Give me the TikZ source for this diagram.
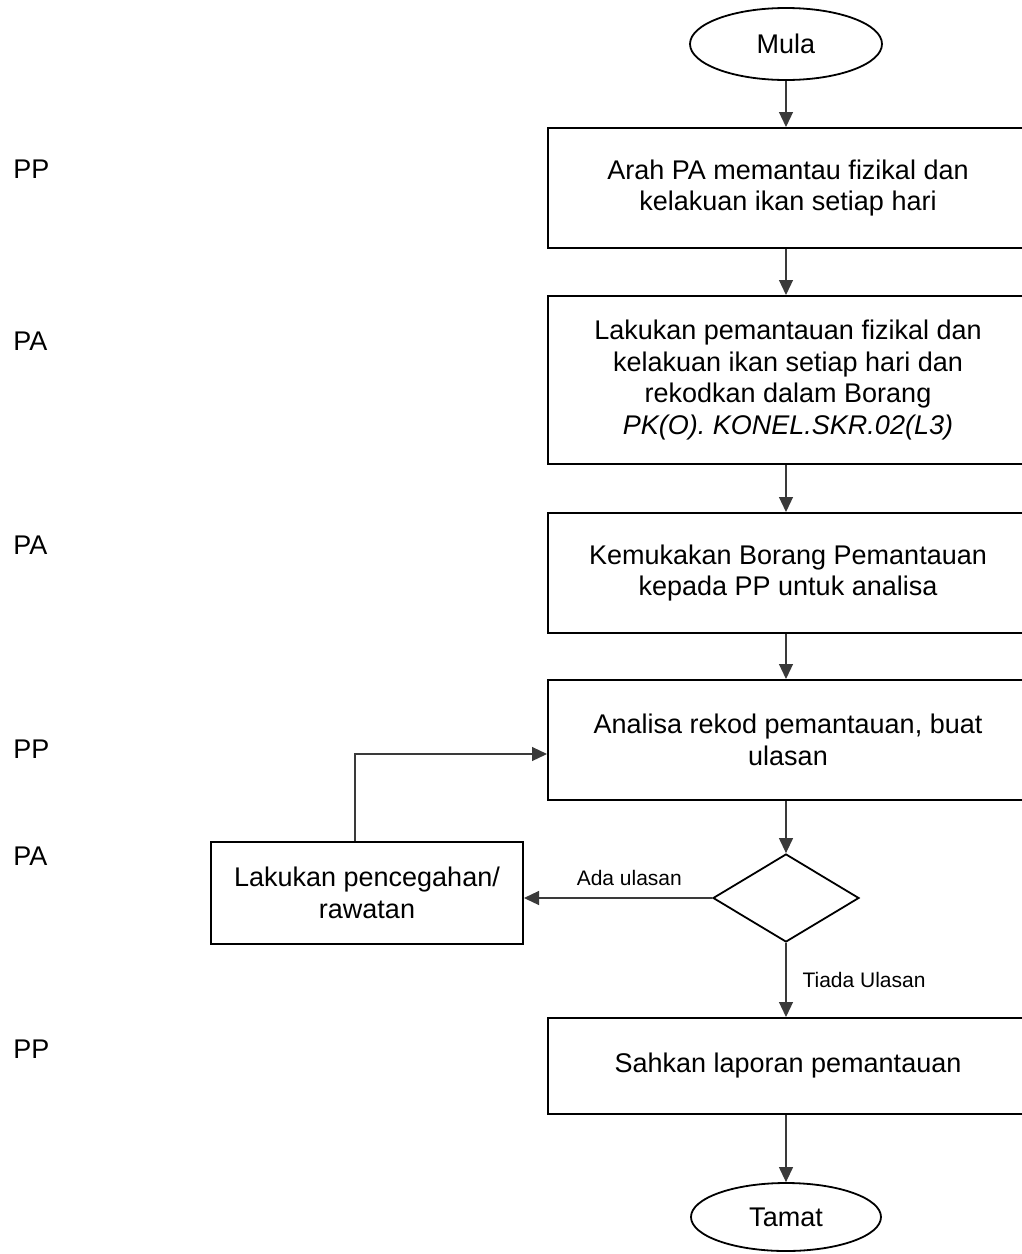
\documentclass[tikz,border=0pt]{standalone}
\usepackage{fontspec}
\setmainfont{Liberation Sans}
\usetikzlibrary{arrows.meta,shapes.geometric}
\definecolor{linec}{HTML}{3A3A3A}
\newcommand\flowfont{\fontsize{13.5}{15.75}\selectfont}
\newcommand\notefont{\fontsize{10.5}{12.5}\selectfont}
\tikzset{
  stepbox/.style={draw, line width=1pt, minimum width=240pt, align=center, inner sep=0pt, font=\flowfont},
  termnode/.style={draw, ellipse, line width=0.9pt, inner sep=0pt, font=\flowfont},
  decide/.style={draw, diamond, line width=0.9pt, inner sep=0pt, minimum width=73pt, minimum height=44pt},
  flow/.style={draw=linec, line width=0.6pt, -{Triangle[width=7pt,length=7.5pt]}},
  role/.style={anchor=west, inner sep=0pt, font=\flowfont},
  note/.style={inner sep=0pt, font=\notefont},
}

\begin{document}
\begin{tikzpicture}[x=0.5pt,y=-0.5pt]
\useasboundingbox (0,0) rectangle (1022,1254);
% roles
\node[role] (r1) at (13,169) {PP};
\node[role] (r2) at (13,341) {PA};
\node[role] (r3) at (13,545) {PA};
\node[role] (r4) at (13,749) {PP};
\node[role] (r5) at (13,856) {PA};
\node[role] (r6) at (13,1049) {PP};
% steps
\node[termnode, minimum width=96pt, minimum height=36pt] (mula) at (786,44) {Mula};
\node[stepbox, minimum height=60pt] (arah) at (788,188) {Arah PA memantau fizikal dan\\kelakuan ikan setiap hari};
\node[stepbox, minimum height=84pt] (pantau) at (788,380) {Lakukan pemantauan fizikal dan\\kelakuan ikan setiap hari dan\\rekodkan dalam Borang\\\textit{PK(O). KONEL.SKR.02(L3)}};
\node[stepbox, minimum height=60pt] (kemuka) at (788,573) {Kemukakan Borang Pemantauan\\kepada PP untuk analisa};
\node[stepbox, minimum height=60pt] (analisa) at (788,740) {Analisa rekod pemantauan, buat\\ulasan};
\node[decide] (cek) at (786,898) {};
\node[stepbox, minimum width=156pt, minimum height=51pt] (rawat) at (367,893) {Lakukan pencegahan/\\rawatan};
\node[stepbox, minimum height=48pt] (sahkan) at (788,1066) {Sahkan laporan pemantauan};
\node[termnode, minimum width=95pt, minimum height=34pt] (tamat) at (786,1217) {Tamat};
% connectors
\draw[flow] (mula.south) -- (mula.south |- arah.north);
\draw[flow] (mula.south |- arah.south) -- (mula.south |- pantau.north);
\draw[flow] (mula.south |- pantau.south) -- (mula.south |- kemuka.north);
\draw[flow] (mula.south |- kemuka.south) -- (mula.south |- analisa.north);
\draw[flow] (mula.south |- analisa.south) -- (cek.north);
\draw[flow] (cek.west) -- (rawat.east |- cek.west) node[note, pos=0.44, above=6pt] (ada) {Ada ulasan};
\draw[flow] ([xshift=-6pt]rawat.north) |- ([yshift=-7pt]analisa.west);
\draw[flow] (cek.south) -- (cek.south |- sahkan.north) node[note, midway, anchor=west, xshift=8pt] (tiada) {Tiada Ulasan};
\draw[flow] (tamat.north |- sahkan.south) -- (tamat.north);
\end{tikzpicture}
\end{document}
